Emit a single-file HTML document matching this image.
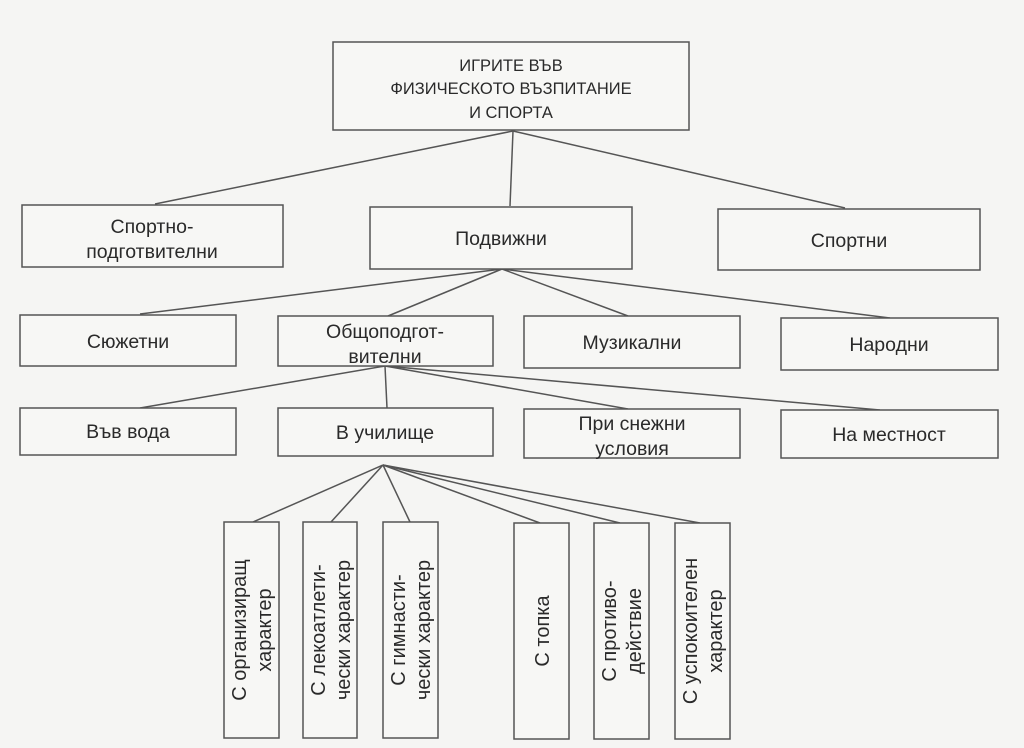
<!DOCTYPE html>
<html><head><meta charset="utf-8"><style>
html,body{margin:0;padding:0;background:#f5f5f3;}
svg{display:block}
text{font-family:"Liberation Sans",sans-serif;fill:#2a2a2a;text-anchor:middle}
</style></head><body>
<svg width="1024" height="748" viewBox="0 0 1024 748" xmlns="http://www.w3.org/2000/svg">
<rect width="1024" height="748" fill="#f5f5f3"/>
<g stroke="#555" stroke-width="1.5" fill="none">
<line x1="513" y1="131" x2="155" y2="204"/>
<line x1="513" y1="131" x2="510" y2="206"/>
<line x1="513" y1="131" x2="845" y2="208"/>
<line x1="502" y1="269" x2="140" y2="314"/>
<line x1="502" y1="269" x2="388" y2="316"/>
<line x1="502" y1="269" x2="628" y2="316"/>
<line x1="502" y1="269" x2="890" y2="318"/>
<line x1="385" y1="366" x2="140" y2="408"/>
<line x1="385" y1="366" x2="387" y2="408"/>
<line x1="385" y1="366" x2="628" y2="409"/>
<line x1="385" y1="366" x2="880" y2="410"/>
<line x1="383" y1="465" x2="253" y2="522"/>
<line x1="383" y1="465" x2="331" y2="522"/>
<line x1="383" y1="465" x2="410" y2="522"/>
<line x1="383" y1="465" x2="540" y2="523"/>
<line x1="383" y1="465" x2="620" y2="523"/>
<line x1="383" y1="465" x2="700" y2="523"/>
</g>
<g stroke="#555" stroke-width="1.5" fill="#f7f7f5">
<rect x="333" y="42" width="356" height="88"/>
<rect x="22" y="205" width="261" height="62"/>
<rect x="370" y="207" width="262" height="62"/>
<rect x="718" y="209" width="262" height="61"/>
<rect x="20" y="315" width="216" height="51"/>
<rect x="278" y="316" width="215" height="50"/>
<rect x="524" y="316" width="216" height="52"/>
<rect x="781" y="318" width="217" height="52"/>
<rect x="20" y="408" width="216" height="47"/>
<rect x="278" y="408" width="215" height="48"/>
<rect x="524" y="409" width="216" height="49"/>
<rect x="781" y="410" width="217" height="48"/>
<rect x="224" y="522" width="55" height="216"/>
<rect x="303" y="522" width="54" height="216"/>
<rect x="383" y="522" width="55" height="216"/>
<rect x="514" y="523" width="55" height="216"/>
<rect x="594" y="523" width="55" height="216"/>
<rect x="675" y="523" width="55" height="216"/>
</g>
<g font-size="16.5">
<text x="511" y="71">ИГРИТЕ ВЪВ</text>
<text x="511" y="94">ФИЗИЧЕСКОТО ВЪЗПИТАНИЕ</text>
<text x="511" y="118">И СПОРТА</text>
</g>
<g font-size="19.5">
<text x="152" y="233">Спортно-</text>
<text x="152" y="258">подготвителни</text>
<text x="501" y="245">Подвижни</text>
<text x="849" y="247">Спортни</text>
<text x="128" y="348">Сюжетни</text>
<text x="385" y="338">Общоподгот-</text>
<text x="385" y="363">вителни</text>
<text x="632" y="349">Музикални</text>
<text x="889" y="351">Народни</text>
<text x="128" y="438">Във вода</text>
<text x="385" y="439">В училище</text>
<text x="632" y="430">При снежни</text>
<text x="632" y="455">условия</text>
<text x="889" y="441">На местност</text>
</g>
<g font-size="20">
<text transform="translate(246,630) rotate(-90)">С организиращ</text>
<text transform="translate(271,630) rotate(-90)">характер</text>
<text transform="translate(325,630) rotate(-90)">С лекоатлети-</text>
<text transform="translate(350,630) rotate(-90)">чески характер</text>
<text transform="translate(405,630) rotate(-90)">С гимнасти-</text>
<text transform="translate(430,630) rotate(-90)">чески характер</text>
<text transform="translate(549,631) rotate(-90)">С топка</text>
<text transform="translate(616,631) rotate(-90)">С противо-</text>
<text transform="translate(641,631) rotate(-90)">действие</text>
<text transform="translate(697,631) rotate(-90)">С успокоителен</text>
<text transform="translate(722,631) rotate(-90)">характер</text>
</g>
</svg>
</body></html>
